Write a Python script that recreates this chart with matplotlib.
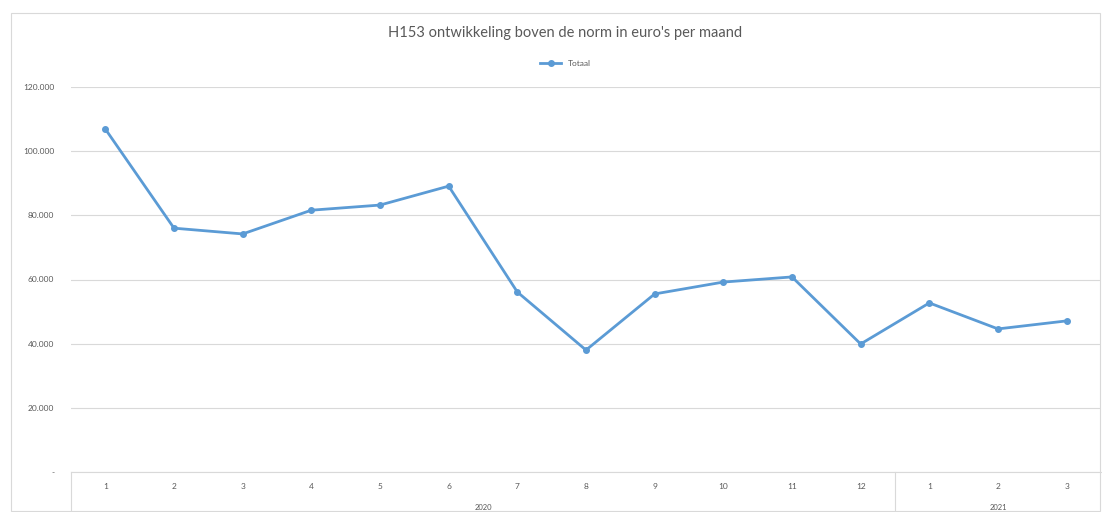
import numpy as np
import matplotlib.pyplot as plt
from matplotlib.ticker import FuncFormatter
from matplotlib.transforms import blended_transform_factory
from matplotlib.patches import Rectangle

# =========================
# DATA
# =========================
MONTHS = ["1", "2", "3", "4", "5", "6", "7", "8", "9", "10", "11", "12", "1", "2", "3"]
YEARS = ["2020", "2021"]
YEAR_COUNTS = [12, 3]
TOTAAL = [106900, 76000, 74200, 81600, 83200, 89100, 56100, 38000,
          55500, 59200, 60800, 39900, 52700, 44600, 47100]

TITLE = "H153 ontwikkeling boven de norm in euro's per maand"
LINE_COLOR = "#5B9BD5"
TEXT_COLOR = "#595959"
GRID_COLOR = "#D9D9D9"

plt.rcParams["font.family"] = ["Lato", "DejaVu Sans"]

# =========================
# FIGURE
# =========================
W, H = 1102, 512
fig = plt.figure(figsize=(W / 100, H / 100), dpi=100)
fig.patches.append(Rectangle((11 / W, 1 / H), (W - 13) / W, (H - 14) / H,
                             transform=fig.transFigure, fill=False,
                             edgecolor="#D9D9D9", linewidth=0.8))

ax = fig.add_axes([71 / W, (H - 472) / H, (1101 - 71) / W, (472 - 87) / H])

x = np.arange(len(MONTHS))
ax.plot(x, TOTAAL, color=LINE_COLOR, linewidth=2.0, marker="o",
        markersize=4, label="Totaal", zorder=3)

ax.set_xlim(-0.5, len(MONTHS) - 0.5)
ax.set_ylim(0, 120000)
ax.set_yticks(np.arange(0, 120001, 20000))


def nl_fmt(v, pos):
    if v == 0:
        return "-"
    return f"{int(v):,}".replace(",", ".")


ax.yaxis.set_major_formatter(FuncFormatter(nl_fmt))
ax.grid(axis="y", color=GRID_COLOR, linewidth=0.8)
ax.set_axisbelow(True)

for s in ["top", "right", "left"]:
    ax.spines[s].set_visible(False)
ax.spines["bottom"].set_color(GRID_COLOR)

ax.set_xticks(x)
ax.set_xticklabels(MONTHS)
ax.tick_params(axis="x", length=0, pad=8, labelsize=6, labelcolor=TEXT_COLOR)
ax.tick_params(axis="y", length=0, pad=12, labelsize=6, labelcolor=TEXT_COLOR)

# multi-level category axis
trans = blended_transform_factory(ax.transData, ax.transAxes)
bottom = -40 / (472 - 87)
start = 0
bounds = [-0.5]
for year, n in zip(YEARS, YEAR_COUNTS):
    centre = start + (n - 1) / 2
    ax.text(centre, -35 / (472 - 87), year, transform=trans, ha="center",
            va="center", fontsize=5.5, color=TEXT_COLOR)
    start += n
    bounds.append(start - 0.5)
for b in bounds[:-1]:
    ax.plot([b, b], [0, bottom], transform=trans, color=GRID_COLOR,
            linewidth=0.8, clip_on=False)

ax.legend(loc="upper center", bbox_to_anchor=(0.48, 1.09), frameon=False,
          fontsize=6, labelcolor=TEXT_COLOR, handlelength=2.5)

fig.text(565 / W, 1 - 33 / H, TITLE, ha="center", va="center",
         fontsize=10.5, color=TEXT_COLOR)

fig.savefig("out.png", dpi=100)
